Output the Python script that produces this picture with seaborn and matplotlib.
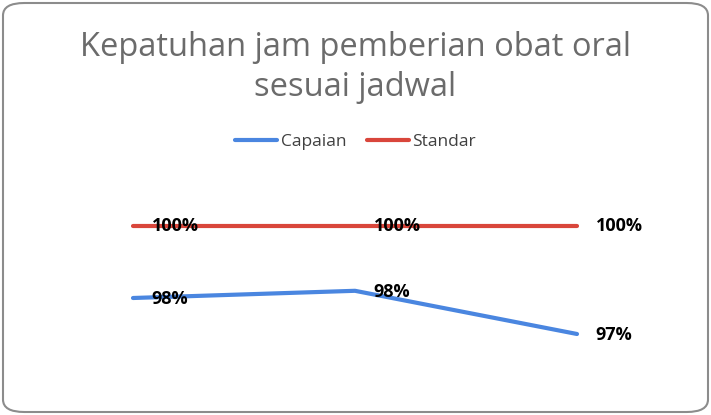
import pandas as pd
import seaborn as sns
import matplotlib.pyplot as plt
from matplotlib.patches import FancyBboxPatch

#--data--#
periods = ['P1', 'P2', 'P3']
capaian = [98.0, 98.2, 97.0]
standar = [100.0, 100.0, 100.0]
capaian_labels = ['98%', '98%', '97%']
standar_labels = ['100%', '100%', '100%']

df = pd.DataFrame({
    'periode': periods * 2,
    'x': list(range(len(periods))) * 2,
    'nilai': capaian + standar,
    'seri': ['Capaian'] * 3 + ['Standar'] * 3,
})

sns.set_style('white')
plt.rcParams['font.family'] = ['Open Sans', 'DejaVu Sans']

fig = plt.figure(figsize=(7.11, 4.15), dpi=100)
ax = fig.add_axes([22 / 711, 1 - 370 / 415, 666 / 711, 180 / 415])

palette = {'Capaian': '#4a86e0', 'Standar': '#d9463b'}
sns.lineplot(data=df, x='x', y='nilai', hue='seri', palette=palette,
             linewidth=3.0, ax=ax, legend=False)

ax.set_xlim(-0.5, 2.5)
ax.set_ylim(96, 101)
ax.axis('off')

#--data labels--#
for i, v in enumerate(standar):
    ax.annotate(standar_labels[i], (i, v), xytext=(13.5, 0), textcoords='offset points',
                ha='left', va='center', fontsize=13, fontweight='bold', color='black')
for i, v in enumerate(capaian):
    ax.annotate(capaian_labels[i], (i, v), xytext=(13.5, -1), textcoords='offset points',
                ha='left', va='center', fontsize=13, fontweight='bold', color='black')

#--title and legend--#
fig.text(0.5, 1 - 48 / 415, 'Kepatuhan jam pemberian obat oral',
         ha='center', va='center', fontsize=23.5, color='#6b6b6b')
fig.text(0.5, 1 - 88 / 415, 'sesuai jadwal',
         ha='center', va='center', fontsize=23.5, color='#6b6b6b')

handles = [plt.Line2D([], [], color=palette[s], linewidth=3.0) for s in ['Capaian', 'Standar']]
fig.legend(handles, ['Capaian', 'Standar'], loc='center', bbox_to_anchor=(0.5, 1 - 142 / 415),
           ncol=2, frameon=False, fontsize=12.5, handlelength=2.4, columnspacing=1.2,
           handletextpad=0.2, labelcolor='#404040')

#--rounded border--#
fig.patches.append(FancyBboxPatch((3 / 711, 3 / 415), 705 / 711, 409 / 415,
                                  boxstyle='round,pad=0,rounding_size=0.03',
                                  transform=fig.transFigure, fill=False,
                                  edgecolor='#8c8c8c', linewidth=1.5))

fig.savefig('out.png', dpi=100)
